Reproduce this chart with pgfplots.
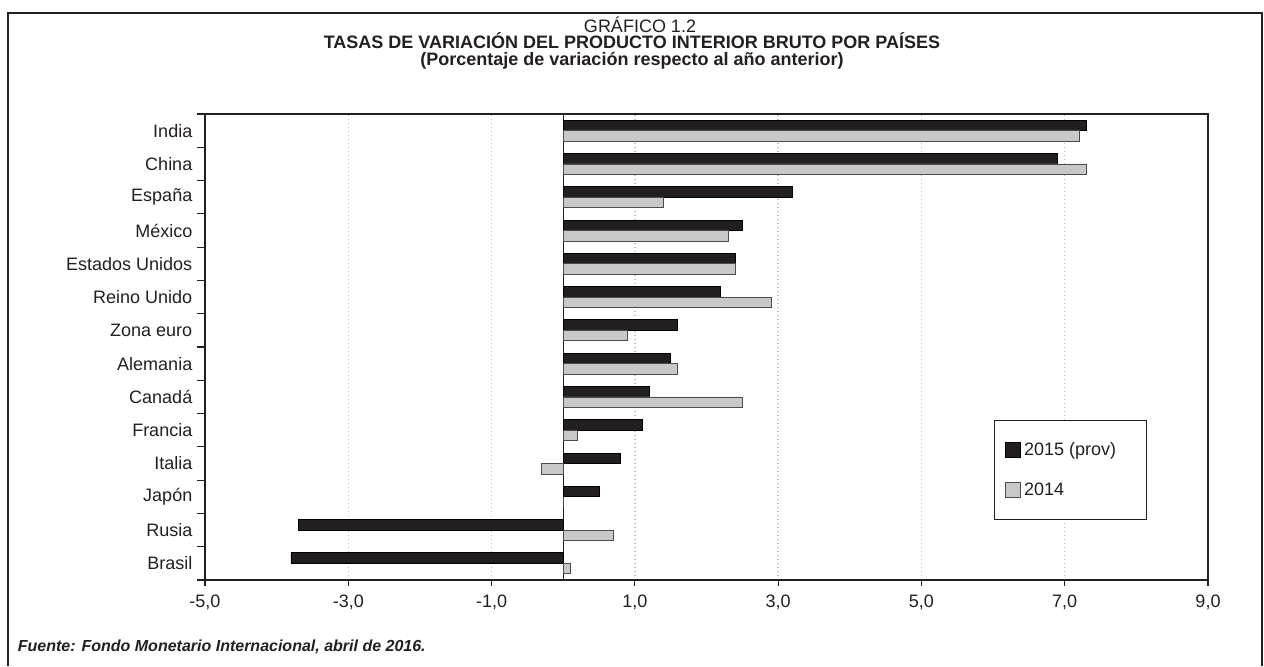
\documentclass[border=0pt]{standalone}
\usepackage{pgfplots}
\pgfplotsset{compat=1.18}
\usepackage{fontspec}
\setmainfont{Liberation Sans}
\definecolor{barDark}{HTML}{231F20}
\definecolor{barGrey}{HTML}{C8C8C8}
\definecolor{ink}{HTML}{231F20}
\newcommand\fs{\fontsize{10.8}{13}\selectfont}
\begin{document}
\begin{tikzpicture}
  % page frame and titles, in pixel units (y downwards)
  \begin{scope}[x=0.6pt,y=-0.6pt]
    \path[use as bounding box] (0,0) rectangle (1264,666);
    \draw[ink, line width=1pt] (8,666) -- (8,13) -- (1262,13) -- (1262,666);
    \node[ink, font=\fs, anchor=base] at (640,32.5) {GRÁFICO 1.2};
    \node[ink, font=\fs\bfseries, anchor=base] at (632,49) {TASAS DE VARIACIÓN DEL PRODUCTO INTERIOR BRUTO POR PAÍSES};
    \node[ink, font=\fs\bfseries, anchor=base] at (632,66) {(Porcentaje de variación respecto al año anterior)};
    \node[ink, font=\fontsize{9.6}{11}\selectfont\bfseries\itshape, anchor=west] at (12,647) {Fuente: Fondo Monetario Internacional, abril de 2016.};
  \end{scope}
  \begin{axis}[
    at={(123pt,-348pt)}, anchor=south west,
    scale only axis, width=601.8pt, height=279.6pt,
    xbar, bar width=6.3pt,
    xmin=-5, xmax=9, ymin=-0.5, ymax=13.5,
    axis line style={ink, line width=0.7pt},
    xtick={-5,-3,-1,1,3,5,7,9},
    xticklabels={{-5,0},{-3,0},{-1,0},{1,0},{3,0},{5,0},{7,0},{9,0}},
    xtick pos=bottom, ytick pos=left,
    tick align=outside,
    major tick length=3.6pt,
    tick style={ink, line width=0.7pt},
    xmajorgrids,
    major grid style={black!25, dotted, line width=0.8pt},
    extra x ticks={0},
    extra x tick labels={},
    extra x tick style={grid=major, major grid style={ink, solid, line width=0.7pt}, tick style={draw=none}},
    ytick={0,...,13},
    yticklabels={Brasil,Rusia,Japón,Italia,Francia,Canadá,Alemania,Zona euro,Reino Unido,Estados Unidos,México,España,China,India},
    minor ytick={-0.5,0.5,...,13.5},
    minor tick length=5pt,
    major y tick style={draw=none},
    ticklabel style={font=\fs, text=ink},
    xticklabel style={yshift=-2pt},
    yticklabel style={xshift=-0.5pt},
    legend style={at={(0.787,0.343)}, anchor=north west, draw=ink, line width=0.6pt,
      font=\fs, text=ink, inner xsep=6pt, inner ysep=11pt, row sep=11pt},
    legend cell align=left,
    legend image code/.code={\draw[#1, line width=0.5pt] (0pt,-4.5pt) rectangle (9pt,4.5pt);},
  ]
    \addplot[fill=barDark, draw=black, line width=0.5pt, bar shift=3.15pt] coordinates {
      (7.3,13) (6.9,12) (3.2,11) (2.5,10) (2.4,9) (2.2,8) (1.6,7)
      (1.5,6) (1.2,5) (1.1,4) (0.8,3) (0.5,2) (-3.7,1) (-3.8,0)
    };
    \addlegendentry{2015 (prov)\hspace*{10pt}\mbox{}}
    \addplot[fill=barGrey, draw=black!70, line width=0.5pt, bar shift=-3.15pt] coordinates {
      (7.2,13) (7.3,12) (1.4,11) (2.3,10) (2.4,9) (2.9,8) (0.9,7)
      (1.6,6) (2.5,5) (0.2,4) (-0.3,3) (0.0,2) (0.7,1) (0.1,0)
    };
    \addlegendentry{2014}
  \end{axis}
\end{tikzpicture}
\end{document}
